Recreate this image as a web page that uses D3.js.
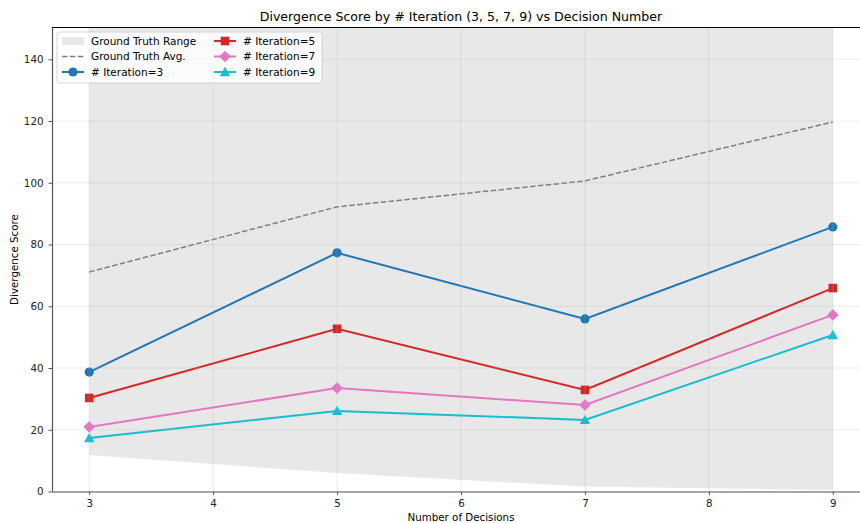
<!DOCTYPE html>
<html>
<head>
<meta charset="utf-8">
<script src="https://cdn.jsdelivr.net/npm/d3@7"></script>
<style>
  html, body { margin: 0; padding: 0; background: #fff; overflow: hidden; }
  svg { display: block; font-family: "DejaVu Sans", sans-serif; }
</style>
</head>
<body>
<svg id="chart" width="860" height="523"></svg>
<script>
// Decision counts on the x axis
const decisions = [3, 5, 7, 9];

// Ground-truth band and its average
const gtLower = [11.8, 6.0, 1.6, 0.5];
const gtUpper = [165, 175, 182, 190];
const gtAvg = [71.1, 92.2, 100.6, 119.7];

// Divergence score per iteration setting
const iter3 = [38.7, 77.3, 55.9, 85.7];
const iter5 = [30.3, 52.7, 32.9, 65.9];
const iter7 = [20.9, 33.5, 28.0, 57.2];
const iter9 = [17.3, 26.1, 23.2, 50.7];

const xTicks = [3, 4, 5, 6, 7, 8, 9];
const yTicks = [0, 20, 40, 60, 80, 100, 120, 140];

const series = [
  { name: "# Iteration=3", values: iter3, color: "#1f77b4", marker: "circle" },
  { name: "# Iteration=5", values: iter5, color: "#d62728", marker: "square" },
  { name: "# Iteration=7", values: iter7, color: "#e377c2", marker: "diamond" },
  { name: "# Iteration=9", values: iter9, color: "#17becf", marker: "triangle" }
];

(function draw() {
  const svg = d3.select("#chart");
  const pl = 52, pt = 27.5, pr = 870, pb = 491.5;

  const x = d3.scaleLinear().domain([2.7, 9.3]).range([pl, pr]);
  const y = d3.scaleLinear().domain([0, 150.3]).range([pb, pt]);

  svg.append("defs").append("clipPath").attr("id", "plot-clip")
    .append("rect").attr("x", pl).attr("y", pt)
    .attr("width", pr - pl).attr("height", pb - pt);

  const plot = svg.append("g").attr("clip-path", "url(#plot-clip)");

  // Ground truth range band
  const area = d3.area()
    .x((d, i) => x(decisions[i]))
    .y0((d, i) => y(gtLower[i]))
    .y1((d, i) => y(gtUpper[i]));
  plot.append("path").datum(decisions).attr("d", area)
    .attr("fill", "#e8e8e8");

  // Grid
  const grid = svg.append("g").attr("clip-path", "url(#plot-clip)");
  grid.selectAll(".gx").data(xTicks).join("line")
    .attr("x1", d => x(d)).attr("x2", d => x(d))
    .attr("y1", pt).attr("y2", pb)
    .attr("stroke", "#b0b0b0").attr("stroke-opacity", 0.3).attr("stroke-width", 0.8);
  grid.selectAll(".gy").data(yTicks).join("line")
    .attr("x1", pl).attr("x2", pr)
    .attr("y1", d => y(d)).attr("y2", d => y(d))
    .attr("stroke", "#b0b0b0").attr("stroke-opacity", 0.3).attr("stroke-width", 0.8);

  // Ground truth average (dashed)
  const line = d3.line().x((d, i) => x(decisions[i])).y(d => y(d));
  plot.append("path").datum(gtAvg).attr("d", line)
    .attr("fill", "none").attr("stroke", "#808080").attr("stroke-width", 1.5)
    .attr("stroke-dasharray", "5.5,2.4");

  // Marker shapes
  function drawMarker(g, type, cx, cy, color) {
    if (type === "circle") {
      g.append("circle").attr("cx", cx).attr("cy", cy).attr("r", 4.6).attr("fill", color);
    } else if (type === "square") {
      const h = 4.3;
      g.append("rect").attr("x", cx - h).attr("y", cy - h).attr("width", 2 * h).attr("height", 2 * h).attr("fill", color);
    } else if (type === "diamond") {
      const h = 5.8;
      g.append("path").attr("d", `M${cx},${cy - h}L${cx + h},${cy}L${cx},${cy + h}L${cx - h},${cy}Z`).attr("fill", color);
    } else if (type === "triangle") {
      const h = 5.2;
      g.append("path").attr("d", `M${cx},${cy - h}L${cx + h},${cy + h * 0.8}L${cx - h},${cy + h * 0.8}Z`).attr("fill", color);
    }
  }

  series.forEach(s => {
    plot.append("path").datum(s.values).attr("d", line)
      .attr("fill", "none").attr("stroke", s.color).attr("stroke-width", 2);
    const mg = plot.append("g");
    s.values.forEach((v, i) => drawMarker(mg, s.marker, x(decisions[i]), y(v), s.color));
  });

  // Axes
  const xAxis = svg.append("g").attr("transform", `translate(0,${pb})`)
    .call(d3.axisBottom(x).tickValues(xTicks).tickFormat(d3.format("d")).tickSize(3.5).tickPadding(5));
  const yAxis = svg.append("g").attr("transform", `translate(${pl},0)`)
    .call(d3.axisLeft(y).tickValues(yTicks).tickFormat(d3.format("d")).tickSize(3.5).tickPadding(5));
  [xAxis, yAxis].forEach(a => {
    a.selectAll("text").attr("font-size", 10.3).attr("fill", "#222").attr("font-family", "DejaVu Sans");
    a.selectAll("line").attr("stroke", "#555");
    a.select(".domain").attr("stroke", "#555").attr("stroke-width", 1.2);
  });
  xAxis.select(".domain").attr("d", `M${pl},0.5H860`);
  yAxis.select(".domain").attr("d", `M0.5,${pt}V${pb}`);

  // Top spine
  svg.append("line").attr("x1", pl).attr("x2", 860).attr("y1", pt).attr("y2", pt)
    .attr("stroke", "#000").attr("stroke-width", 1);

  // Titles
  svg.append("text").attr("x", 461).attr("y", 21).attr("text-anchor", "middle")
    .attr("font-size", 12.6).attr("fill", "#000").text("Divergence Score by # Iteration (3, 5, 7, 9) vs Decision Number");
  svg.append("text").attr("x", 461).attr("y", 521).attr("text-anchor", "middle")
    .attr("font-size", 10.3).attr("fill", "#000").text("Number of Decisions");
  svg.append("text").attr("transform", `translate(18,${(pt + pb) / 2}) rotate(-90)`)
    .attr("text-anchor", "middle").attr("font-size", 10.3).attr("fill", "#000").text("Divergence Score");

  // Legend
  const lg = svg.append("g").attr("transform", "translate(57,32)");
  lg.append("rect").attr("x", 0).attr("y", 0).attr("width", 265).attr("height", 51)
    .attr("rx", 2.5).attr("fill", "#fff").attr("fill-opacity", 0.8).attr("stroke", "#ccc").attr("stroke-width", 0.8);
  const legendItems = [
    { name: "Ground Truth Range", kind: "band" },
    { name: "Ground Truth Avg.", kind: "dash" },
    series[0], series[1], series[2], series[3]
  ];
  legendItems.forEach((it, i) => {
    const col = i < 3 ? 0 : 1;
    const row = i % 3;
    const gx = col === 0 ? 5 : 157;
    const gy = 9 + row * 15.5;
    const g = lg.append("g");
    if (it.kind === "band") {
      g.append("rect").attr("x", gx).attr("y", gy - 4).attr("width", 22).attr("height", 8).attr("fill", "#e8e8e8");
    } else if (it.kind === "dash") {
      g.append("line").attr("x1", gx).attr("x2", gx + 22).attr("y1", gy).attr("y2", gy)
        .attr("stroke", "#808080").attr("stroke-width", 1.5).attr("stroke-dasharray", "5.5,2.4");
    } else {
      g.append("line").attr("x1", gx).attr("x2", gx + 22).attr("y1", gy).attr("y2", gy)
        .attr("stroke", it.color).attr("stroke-width", 2);
      drawMarker(g, it.marker, gx + 11, gy, it.color);
    }
    g.append("text").attr("x", gx + 29).attr("y", gy + 3.6).attr("font-size", 10.5)
      .attr("fill", "#000").text(it.name);
  });
})();
</script>
</body>
</html>
